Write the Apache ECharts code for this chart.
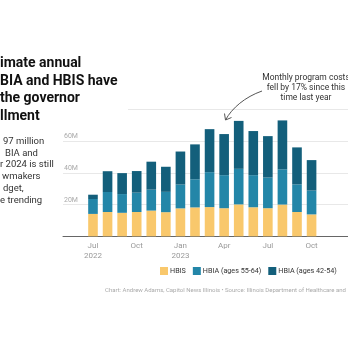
<!DOCTYPE html>
<html>
<head>
<meta charset="utf-8">
<script src="https://cdn.jsdelivr.net/npm/echarts@6/dist/echarts.min.js"></script>
<style>
html,body{margin:0;padding:0;background:#fff;}
#c{width:348px;height:342px;}
</style>
</head>
<body>
<div id="c"></div>
<script>
// Months (x categories); last two are off the visible crop (values not visible)
const categories = ['Jul\n2022','Aug','Sep','Oct','Nov','Dec','Jan\n2023','Feb','Mar','Apr','May','Jun','Jul','Aug','Sep','Oct','Nov','Dec'];
// Monthly cost in millions of dollars
const hbis      = [14.1,15.3,14.8,15.3,16.2,15.2,17.6,18.2,18.4,17.7,20.1,18.3,17.7,20.0,15.3,13.8,null,null];
const hbia5564  = [ 9.4,12.6,11.8,12.2,13.2,12.8,15.0,17.7,22.0,20.8,22.4,20.2,19.3,22.2,17.4,15.0,null,null];
const hbia4254  = [ 2.7,13.1,13.2,13.6,17.6,15.8,20.8,22.0,27.1,25.9,30.2,27.8,26.1,30.8,23.3,19.2,null,null];
const yTicks = [0,20,40,60,80];

const titleLines = ['imate annual','BIA and HBIS have','the governor','llment'];
const subLines = [['97 million',3],['BIA and',5],['r 2024 is still',0],['wmakers',2],['dget,',3],['e trending',0]];
const noteLines = ['Monthly program costs','fell by 17% since this','time last year'];
const footer = 'Chart: Andrew Adams, Capitol News Illinois \u2022 Source: Illinois Department of Healthcare and Family Services';

const FONT = 'Roboto, "Noto Sans", sans-serif';
const C_HBIS = '#f9c86c', C_MID = '#2386a8', C_DARK = '#135f7b';

const chart = echarts.init(document.getElementById('c'), null, {renderer:'canvas'});

const graphics = [
  {type:'rect', z:10, shape:{x:0,y:50,width:128,height:73}, style:{fill:'#fff'}},
];
titleLines.forEach((t,i)=>graphics.push({type:'text', z:11, x:0, y:63.5+i*17.5,
  style:{text:t, font:'bold 14px '+FONT, fill:'#111', textVerticalAlign:'middle'}}));
subLines.forEach((s,i)=>graphics.push({type:'text', z:11, x:s[1], y:141.7+i*11.7,
  style:{text:s[0], font:'9.5px '+FONT, fill:'#333', textVerticalAlign:'middle'}}));
noteLines.forEach((t,i)=>graphics.push({type:'text', z:11, x:306, y:77.5+i*10.4,
  style:{text:t, font:'8.5px '+FONT, fill:'#333', textAlign:'center', textVerticalAlign:'middle'}}));
graphics.push({type:'bezierCurve', z:11, shape:{x1:262,y1:91,cpx1:245,cpy1:97,cpx2:232,cpy2:108,x2:225.5,y2:120},
  style:{stroke:'#555', lineWidth:1, fill:null}});
graphics.push({type:'polyline', z:11, shape:{points:[[224.5,113.5],[225.5,120],[231.5,117.5]]},
  style:{stroke:'#555', lineWidth:1, fill:null}});
graphics.push({type:'text', z:11, x:105, y:290,
  style:{text:footer, font:'6px '+FONT, fill:'#aaa', textVerticalAlign:'middle'}});

chart.setOption({
  animation:false,
  textStyle:{fontFamily:FONT},
  legend:{
    left:160, top:267, width:400, orient:'horizontal', padding:0,
    itemWidth:8, itemHeight:8, itemGap:7, icon:'rect',
    textStyle:{fontSize:7.2, color:'#333', padding:[0,0,0,-3]},
    data:['HBIS','HBIA (ages 55-64)','HBIA (ages 42-54)']
  },
  grid:[
    {left:85.7, right:-29.8, top:109.3, bottom:105.7},
    {left:63, right:-29.8, top:109.3, bottom:105.7}
  ],
  xAxis:[
    {type:'category', gridIndex:0, data:categories,
      axisLine:{show:false}, axisTick:{show:false},
      axisLabel:{interval:2, color:'#999', fontSize:8, lineHeight:9.5, margin:5}},
    {type:'value', gridIndex:1, min:0, max:1, show:true,
      axisLine:{show:true, onZero:false, lineStyle:{color:'#666', width:1}},
      axisTick:{show:false}, axisLabel:{show:false}, splitLine:{show:false}}
  ],
  yAxis:[
    {type:'value', gridIndex:0, min:0, max:80, interval:20, show:false, splitLine:{show:false}},
    {type:'value', gridIndex:1, min:0, max:80, interval:20,
      axisLine:{show:false}, axisTick:{show:false},
      splitLine:{show:true, lineStyle:{color:'#e8e8e8', width:1}},
      axisLabel:{align:'left', verticalAlign:'bottom', margin:-1, padding:[0,0,1,0], color:'#aaa', fontSize:7,
        formatter:v=> (v===0||v===80)?'':v+'M'}}
  ],
  series:[
    {name:'HBIS', type:'bar', stack:'a', xAxisIndex:0, yAxisIndex:0, data:hbis, barWidth:'66%', itemStyle:{color:C_HBIS}, z:3},
    {name:'HBIA (ages 55-64)', type:'bar', stack:'a', xAxisIndex:0, yAxisIndex:0, data:hbia5564, barWidth:'66%', itemStyle:{color:C_MID}, z:3},
    {name:'HBIA (ages 42-54)', type:'bar', stack:'a', xAxisIndex:0, yAxisIndex:0, data:hbia4254, barWidth:'66%', itemStyle:{color:C_DARK}, z:3}
  ],
  graphic:graphics
});
</script>
</body>
</html>
